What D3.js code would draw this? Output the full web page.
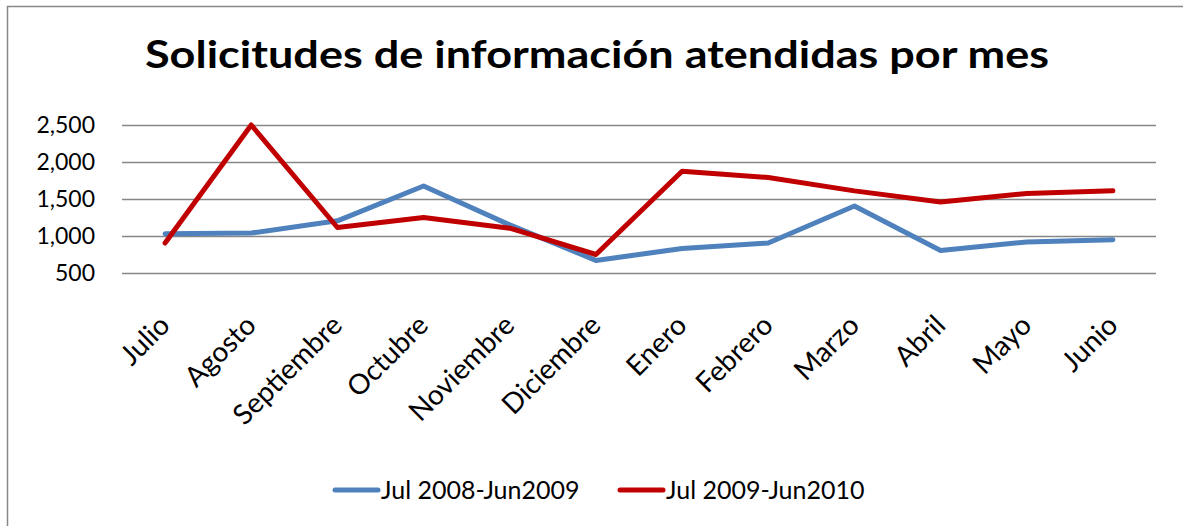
<!DOCTYPE html>
<html>
<head>
<meta charset="utf-8">
<script src="https://cdn.jsdelivr.net/npm/d3@7"></script>
<style>
  body { margin: 0; background: #fff; }
  svg { display: block; font-family: Lato, "Open Sans", sans-serif; }
</style>
</head>
<body>
<svg width="1183" height="526"></svg>
<script>
const months = ["Julio", "Agosto", "Septiembre", "Octubre", "Noviembre", "Diciembre",
  "Enero", "Febrero", "Marzo", "Abril", "Mayo", "Junio"];
const serie2008 = [1030, 1040, 1205, 1675, 1150, 670, 830, 905, 1405, 805, 920, 950];
const serie2009 = [905, 2500, 1115, 1250, 1105, 750, 1875, 1790, 1610, 1460, 1575, 1610];
const yTicks = [500, 1000, 1500, 2000, 2500];
const seriesNames = ["Jul 2008-Jun2009", "Jul 2009-Jun2010"];
const colors = ["#4f81bd", "#c00000"];
const fontFamily = "Lato, 'Open Sans', sans-serif";

const svg = d3.select("svg");
const width = +svg.attr("width");
const height = +svg.attr("height");

// chart frame
svg.append("path")
  .attr("d", `M7.5,${height} V6.5 H${width}`)
  .attr("fill", "none")
  .attr("stroke", "#888")
  .attr("stroke-width", 1.5);

svg.append("text")
  .attr("x", 145)
  .attr("y", 68)
  .attr("font-weight", "bold")
  .attr("font-size", 38)
  .attr("textLength", 904)
  .attr("lengthAdjust", "spacingAndGlyphs")
  .attr("fill", "#000")
  .text("Solicitudes de información atendidas por mes");

const margin = { top: 125, left: 122, right: 27, bottom: 253 };
const innerWidth = width - margin.left - margin.right;
const innerHeight = height - margin.top - margin.bottom;

const xScale = d3.scalePoint()
  .domain(months)
  .range([0, innerWidth])
  .padding(0.5);

const yScale = d3.scaleLinear()
  .domain([500, 2500])
  .range([innerHeight, 0]);

const g = svg.append("g")
  .attr("transform", `translate(${margin.left},${margin.top})`);

// gridlines + y labels
const yAxis = d3.axisLeft(yScale)
  .tickValues(yTicks)
  .tickSize(-innerWidth)
  .tickPadding(27)
  .tickFormat(d3.format(","));

const yAxisGroup = g.append("g")
  .attr("class", "y-axis")
  .call(yAxis)
  .attr("font-family", fontFamily);
yAxisGroup.select(".domain").remove();
yAxisGroup.selectAll(".tick line")
  .attr("stroke", "#868686")
  .attr("stroke-width", 1.3);
yAxisGroup.selectAll(".tick text")
  .attr("font-size", 23)
  .attr("fill", "#000");

// x labels, rotated
const xAxis = d3.axisBottom(xScale).tickSize(0).tickPadding(0);
const xAxisGroup = g.append("g")
  .attr("class", "x-axis")
  .attr("transform", `translate(0,${innerHeight})`)
  .call(xAxis)
  .attr("font-family", fontFamily);
xAxisGroup.select(".domain").remove();
xAxisGroup.selectAll(".tick text")
  .attr("font-size", 28)
  .attr("fill", "#000")
  .attr("text-anchor", "end")
  .attr("dy", null)
  .attr("y", 0)
  .attr("transform", "translate(6,54) rotate(-45)");

// lines
const line = d3.line()
  .x((d, i) => xScale(months[i]))
  .y((d) => yScale(d));

[serie2008, serie2009].forEach((values, k) => {
  g.append("path")
    .datum(values)
    .attr("fill", "none")
    .attr("stroke", colors[k])
    .attr("stroke-width", 5)
    .attr("stroke-linejoin", "round")
    .attr("stroke-linecap", "round")
    .attr("d", line);
});

// legend
const legendX = [335, 620];
const legend = svg.append("g").attr("transform", "translate(0,490)");
seriesNames.forEach((name, k) => {
  legend.append("line")
    .attr("x1", legendX[k]).attr("x2", legendX[k] + 43)
    .attr("y1", 0).attr("y2", 0)
    .attr("stroke", colors[k])
    .attr("stroke-width", 5)
    .attr("stroke-linecap", "round");
  legend.append("text")
    .attr("x", legendX[k] + 46)
    .attr("y", 9)
    .attr("font-size", 25)
    .attr("fill", "#000")
    .text(name);
});
</script>
</body>
</html>
